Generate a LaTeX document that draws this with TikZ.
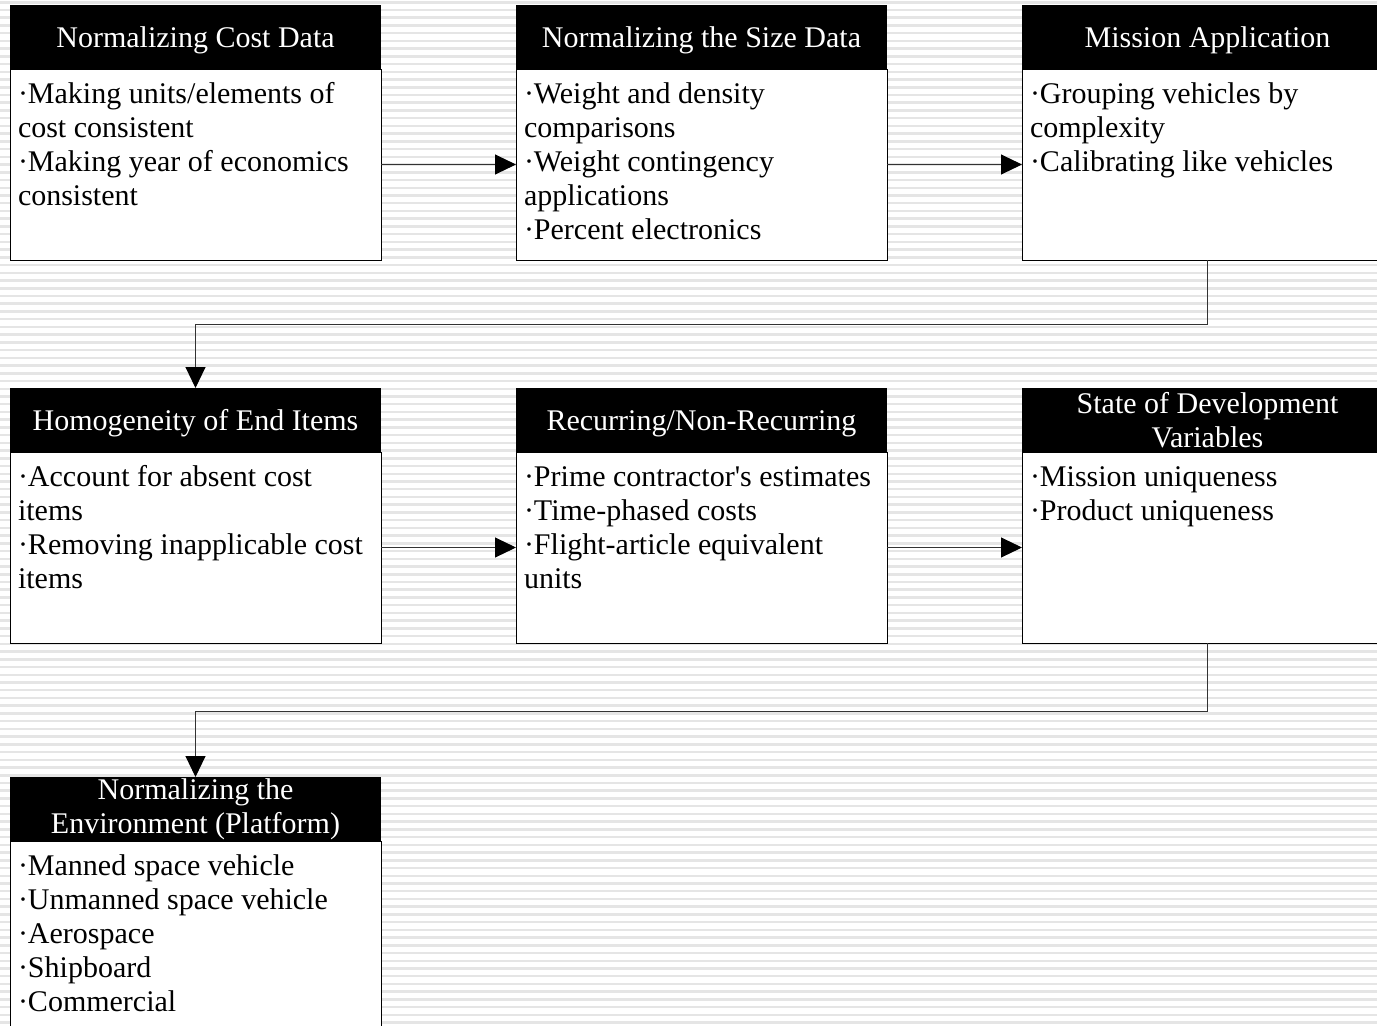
\documentclass[tikz,border=0pt]{standalone}
\usepackage{fontspec}
\setmainfont{Liberation Serif}
\usepackage{tikz}
\usetikzlibrary{arrows.meta,positioning}

\begin{document}
\begin{tikzpicture}[x=1pt,y=-1pt,
  font=\fontsize{30}{34}\selectfont,
  head/.style={fill=black,text=white,minimum width=371pt,minimum height=64pt,
    inner sep=0pt,align=center,outer sep=0pt},
  oneline/.style={text height=26.5pt,text depth=6.5pt},
  body/.style={draw=black,fill=white,line width=1pt,inner xsep=8pt,inner ysep=5pt,
    outer sep=0pt,
    execute at begin node={\begin{minipage}[t][181pt][t]{355pt}\raggedright\rule{0pt}{29pt}},
    execute at end node={\end{minipage}}},
  conn/.style={draw=black!80,line width=1pt,
    -{Triangle[length=21pt,width=20pt,color=black]}},
  ]
\clip (0,0) rectangle (1377,1026);
\fill[white] (0,0) rectangle (1377,1026);
% background stripes
\foreach \i in {0,...,133}
  \fill[black!10] (0,{1+7.73*\i}) rectangle +(1377,2.5);

% first row
\node[head,oneline,anchor=north west] (costhead) at (10,5) {Normalizing Cost Data};
\node[body,below=0pt of costhead] (costbody)
  {·Making units/elements of\\cost consistent\\·Making year of economics\\consistent};
\node[head,oneline,right=135pt of costhead] (sizehead) {Normalizing the Size Data};
\node[body,below=0pt of sizehead] (sizebody)
  {·Weight and density\\comparisons\\·Weight contingency\\applications\\·Percent electronics};
\node[head,oneline,right=135pt of sizehead] (misshead) {Mission Application};
\node[body,below=0pt of misshead] (missbody)
  {·Grouping vehicles by\\complexity\\·Calibrating like vehicles};

% second row
\node[head,oneline,below=128pt of costbody] (homhead) {Homogeneity of End Items};
\node[body,below=0pt of homhead] (hombody)
  {·Account for absent cost\\items\\·Removing inapplicable cost\\items};
\node[head,oneline,right=135pt of homhead] (rechead) {Recurring/Non-Recurring};
\node[body,below=0pt of rechead] (recbody)
  {·Prime contractor\textquotesingle s estimates\\·Time-phased costs\\·Flight-article equivalent\\units};
\node[head,right=135pt of rechead] (statehead) {State of Development\\Variables};
\node[body,below=0pt of statehead] (statebody)
  {·Mission uniqueness\\·Product uniqueness};

% third row
\node[head,below=134pt of hombody] (envhead) {Normalizing the\\Environment (Platform)};
\node[body,below=0pt of envhead] (envbody)
  {·Manned space vehicle\\·Unmanned space vehicle\\·Aerospace\\·Shipboard\\·Commercial};

% connectors
\draw[conn] (costbody) -- (sizebody);
\draw[conn] (sizebody) -- (missbody);
\draw[conn] (missbody.south) -- ++(0,64) -| (homhead.north);
\draw[conn] (hombody) -- (recbody);
\draw[conn] (recbody) -- (statebody);
\draw[conn] (statebody.south) -- ++(0,68) -| (envhead.north);
\end{tikzpicture}
\end{document}
